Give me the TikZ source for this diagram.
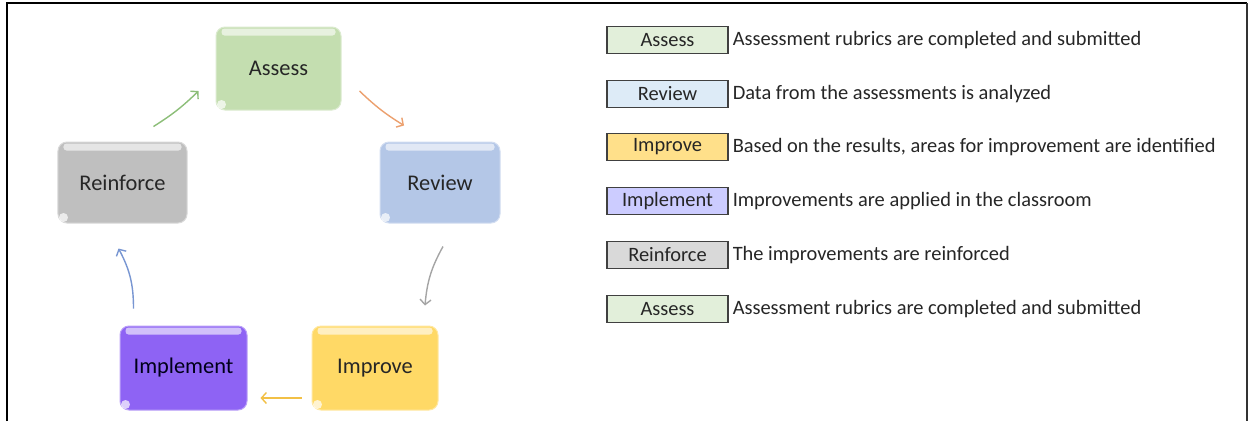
\documentclass[tikz,border=0pt]{standalone}
\usepackage{fontspec}
\setmainfont{Carlito}
\usetikzlibrary{arrows.meta,calc}
\definecolor{cAs}{RGB}{196,222,176}
\definecolor{cRv}{RGB}{180,199,231}
\definecolor{cRf}{RGB}{191,191,191}
\definecolor{cIm}{RGB}{142,99,244}
\definecolor{cIp}{RGB}{255,217,102}
\definecolor{lAs}{RGB}{226,239,218}
\definecolor{lRv}{RGB}{221,235,247}
\definecolor{lIp}{RGB}{255,224,138}
\definecolor{lIm}{RGB}{204,204,255}
\definecolor{lRf}{RGB}{217,217,217}
\definecolor{aG}{RGB}{140,190,120}
\definecolor{aO}{RGB}{236,160,110}
\definecolor{aGr}{RGB}{165,165,165}
\definecolor{aY}{RGB}{242,192,70}
\definecolor{aB}{RGB}{120,150,210}
\tikzset{
  cyc/.style={rounded corners=9bp, minimum width=125bp, minimum height=83bp, inner sep=0pt,
    font=\fontsize{22.5}{27}\selectfont, text=black!85},
  leg/.style={draw=black!75, line width=1.1bp, minimum width=121bp, minimum height=27bp, inner sep=0pt,
    font=\fontsize{20.5}{24}\selectfont, text=black!85},
  desc/.style={anchor=west, inner sep=0pt, xshift=4bp, font=\fontsize{20.5}{24}\selectfont, text=black!85},
  arr/.style={line width=1.4bp, -{Straight Barb[length=5bp,width=11bp]}},
}
\newcommand{\gloss}[2]{%
  \fill[white,opacity=0.6,rounded corners=3bp] ([shift={(6,2)}]#1.north west) rectangle ([shift={(-6,9)}]#1.north east);
  \fill[white,opacity=0.7] ([shift={(6,-6)}]#1.south west) circle (4.5bp);
}
\begin{document}
\begin{tikzpicture}[x=1bp,y=-1bp]
\useasboundingbox (0,0) rectangle (1255,421);
\fill[white] (0,0) rectangle (1255,421);
% frame
\draw[line width=2.5bp] (7,421) -- (7,3) -- (1247,3);
\draw[line width=1.5bp,black!80] (1247,3) -- (1247,421);
% cycle boxes
\node[cyc, fill=cAs, draw=cAs!60!white, line width=1bp] (as) at (278.5,68.5) {Assess};
\node[cyc, fill=cRv, draw=cRv!60!white, line width=1bp, minimum width=120bp, minimum height=81bp] (rv) at (440,182.5) {Review};
\node[cyc, fill=cRf, draw=cRf!60!white, line width=1bp, minimum width=129bp, minimum height=81bp] (rf) at (122.5,182.5) {Reinforce};
\node[cyc, fill=cIm, draw=cIm!60!white, line width=1bp, minimum width=127bp, minimum height=84bp, text=black!90!blue] (im) at (183.5,368) {Implement};
\node[cyc, fill=cIp, draw=cIp!60!white, line width=1bp, minimum width=126bp, minimum height=84bp] (ip) at (375,368) {Improve};
\gloss{as}{} \gloss{rv}{} \gloss{rf}{} \gloss{im}{} \gloss{ip}{}
% arrows
\draw[arr, aG] ([shift={(31,-15)}]rf.north) to[bend right=6] ([shift={(-17,22.5)}]as.west);
\draw[arr, aO] ([shift={(18,22.5)}]as.east) to[bend right=6] ([shift={(-36,-16)}]rv.north);
\draw[arr, aGr] ([shift={(3,23)}]rv.south) to[bend right=12] ([shift={(50,-20)}]ip.north);
\draw[arr, aY] ([shift={(-10,30)}]ip.west) -- ([shift={(13,30)}]im.east);
\draw[arr, aB] ([shift={(-50,-17)}]im.north) to[bend right=14] ([shift={(-4,25)}]rf.south);
% legend
\node[leg, fill=lAs] (l1) at (667.5,40) {Assess};
\node[leg, fill=lRv] (l2) at (667.5,94) {Review};
\node[leg, fill=lIp] (l3) at (667.5,147) {Improve};
\node[leg, fill=lIm] (l4) at (667.5,201) {Implement};
\node[leg, fill=lRf] (l5) at (667.5,255) {Reinforce};
\node[leg, fill=lAs] (l6) at (667.5,309) {Assess};
\node[desc] (d1) at (l1.east) {Assessment rubrics are completed and submitted};
\node[desc] (d2) at (l2.east) {Data from the assessments is analyzed};
\node[desc] (d3) at (l3.east) {Based on the results, areas for improvement are identified};
\node[desc] (d4) at (l4.east) {Improvements are applied in the classroom};
\node[desc] (d5) at (l5.east) {The improvements are reinforced};
\node[desc] (d6) at (l6.east) {Assessment rubrics are completed and submitted};
\end{tikzpicture}
\end{document}
